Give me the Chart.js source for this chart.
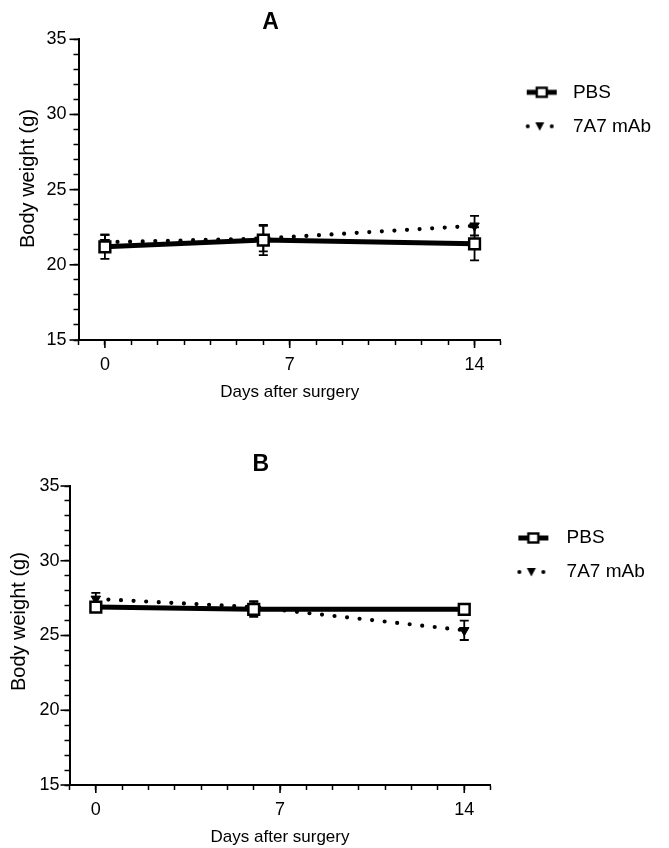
<!DOCTYPE html>
<html>
<head>
<meta charset="utf-8">
<script src="https://cdn.jsdelivr.net/npm/chart.js@4"></script>
<style>
  html, body { margin: 0; padding: 0; background: #fff; }
  #wrap { position: relative; width: 669px; height: 848px; }
  canvas { position: absolute; left: 0; }
</style>
</head>
<body>
<div id="wrap">
  <canvas id="cA" width="669" height="420" style="top:0px"></canvas>
  <canvas id="cB" width="669" height="428" style="top:420px"></canvas>
</div>
<script>
// ---------- data ----------
const days = [0, 6, 14];
const seriesNames = ['PBS', '7A7 mAb'];
const panelTitles = ['A', 'B'];
const xTickLabels = [0, 7, 14];
const yTickLabels = [15, 20, 25, 30, 35];
const xAxisTitle = 'Days after surgery';
const yAxisTitle = 'Body weight (g)';

const pbsA = [21.2, 21.65, 21.4];
const pbsAErr = [0.8, 1.0, 1.1];
const mabA = [21.5, 21.75, 22.6];
const mabAErr = [0.5, 0.85, 0.65];

const pbsB = [26.9, 26.75, 26.75];
const pbsBErr = [0.3, 0.5, 0.2];
const mabB = [27.45, 26.9, 25.35];
const mabBErr = [0.4, 0.4, 0.65];

// ---------- style / layout ----------
const FONT = "'Liberation Sans', Arial, Helvetica, sans-serif";
Chart.defaults.color = '#000';
Chart.defaults.font.family = FONT;

const layoutA = { yAxisW: 78.5, xAxisH: 80, titleTop: 8.7, titleBottom: 3, padRight: 7.9,
  legendTitleH: 28.5, boxW: 47.5, sampleOff: 11, yTitlePad: 16.5, xTitlePad: 17.8, yTickPad: 7,
  titleSpaces: 6, yTitleSpaces: 4 };
const layoutB = { yAxisW: 69.5, xAxisH: 63, titleTop: 31.2, titleBottom: 7.2, padRight: 14.9,
  legendTitleH: 27.5, boxW: 51.5, sampleOff: 13, yTitlePad: 7.5, xTitlePad: 0, yTickPad: 5,
  titleSpaces: 6, yTitleSpaces: 5 };

function makeSample(kind, w, off) {
  const c = document.createElement('canvas');
  c.width = Math.round(w); c.height = 16;
  const g = c.getContext('2d');
  const cy = 8;
  g.strokeStyle = '#000'; g.fillStyle = '#000';
  if (kind === 'solid') {
    g.lineWidth = 5;
    g.beginPath(); g.moveTo(off, cy); g.lineTo(off + 30, cy); g.stroke();
    g.fillStyle = '#fff';
    g.fillRect(off + 15 - 5, cy - 4.5, 10, 9);
    g.lineWidth = 2.4;
    g.strokeRect(off + 15 - 5, cy - 4.5, 10, 9);
  } else {
    [off + 1, off + 25].forEach(px => { g.beginPath(); g.arc(px, cy, 2, 0, Math.PI * 2); g.fill(); });
    const tx = off + 13;
    g.beginPath(); g.moveTo(tx - 4.5, cy - 4); g.lineTo(tx + 4.5, cy - 4); g.lineTo(tx, cy + 4.5); g.closePath(); g.fill();
  }
  return c;
}

const errorBarPlugin = {
  id: 'errorBars',
  beforeDatasetsDraw(chart) {
    const ctx = chart.ctx;
    const xs = chart.scales.x, ys = chart.scales.y;
    ctx.save();
    ctx.strokeStyle = '#000';
    ctx.lineWidth = 1.8;
    chart.data.datasets.forEach(ds => {
      ds.data.forEach((p, i) => {
        const e = ds.errors[i];
        const px = xs.getPixelForValue(p.x);
        const top = ys.getPixelForValue(p.y + e);
        const bot = ys.getPixelForValue(p.y - e);
        ctx.beginPath();
        ctx.moveTo(px, top); ctx.lineTo(px, bot);
        ctx.moveTo(px - 4.5, top); ctx.lineTo(px + 4.5, top);
        ctx.moveTo(px - 4.5, bot); ctx.lineTo(px + 4.5, bot);
        ctx.stroke();
      });
    });
    ctx.restore();
  }
};

const majorTickPlugin = {
  id: 'majorTicks',
  afterDraw(chart) {
    const ctx = chart.ctx;
    const xs = chart.scales.x, ys = chart.scales.y;
    ctx.save();
    ctx.strokeStyle = '#000';
    ctx.lineWidth = 1.6;
    xTickLabels.forEach(v => {
      const px = xs.getPixelForValue(v);
      ctx.beginPath(); ctx.moveTo(px, xs.top); ctx.lineTo(px, xs.top + 8); ctx.stroke();
    });
    yTickLabels.forEach(v => {
      const py = ys.getPixelForValue(v);
      ctx.beginPath(); ctx.moveTo(ys.right, py); ctx.lineTo(ys.right - 9, py); ctx.stroke();
    });
    ctx.restore();
  }
};

function buildChart(canvasId, title, pbs, pbsErr, mab, mabErr, L) {
  const samples = [makeSample('solid', L.boxW, L.sampleOff), makeSample('dot', L.boxW, L.sampleOff)];
  return new Chart(document.getElementById(canvasId), {
    type: 'line',
    data: {
      datasets: [
        {
          label: seriesNames[0],
          data: days.map((d, i) => ({ x: d, y: pbs[i] })),
          errors: pbsErr,
          borderColor: '#000',
          borderWidth: 5,
          tension: 0,
          pointStyle: 'rect',
          pointRadius: 7.6,
          pointBorderWidth: 2.5,
          pointBackgroundColor: '#fff',
          pointBorderColor: '#000',
          order: 0
        },
        {
          label: seriesNames[1],
          data: days.map((d, i) => ({ x: d, y: mab[i] })),
          errors: mabErr,
          borderColor: '#000',
          borderWidth: 4.2,
          borderDash: [0, 12.6],
          borderCapStyle: 'round',
          tension: 0,
          pointStyle: 'triangle',
          rotation: 180,
          pointRadius: 5.5,
          pointBorderWidth: 1,
          pointBackgroundColor: '#000',
          pointBorderColor: '#000',
          order: 1
        }
      ]
    },
    options: {
      responsive: false,
      animation: false,
      devicePixelRatio: 1,
      layout: { padding: { top: 0, left: 0, right: L.padRight, bottom: 0 } },
      plugins: {
        tooltip: { enabled: false },
        title: {
          display: true,
          text: title + ' '.repeat(L.titleSpaces),
          fullSize: false,
          font: { family: FONT, size: 23, weight: 'bold', lineHeight: 1.2 },
          color: '#000',
          padding: { top: L.titleTop, bottom: L.titleBottom }
        },
        legend: {
          display: true,
          position: 'right',
          align: 'start',
          fullSize: false,
          title: { display: true, text: '', font: { size: 10, lineHeight: 1.2 }, padding: { top: 0, bottom: L.legendTitleH - 12 } },
          labels: {
            usePointStyle: true,
            pointStyleWidth: L.boxW,
            padding: 15,
            color: '#000',
            font: { family: FONT, size: 19 },
            generateLabels: (chart) => chart.data.datasets.map((ds, i) => ({
              text: ds.label, pointStyle: samples[i], fillStyle: '#000', strokeStyle: '#000',
              lineWidth: 0, hidden: false, datasetIndex: i, fontColor: '#000'
            }))
          }
        }
      },
      scales: {
        x: {
          type: 'linear',
          min: -1, max: 15,
          afterFit: (s) => { s.height = L.xAxisH; },
          border: { display: true, color: '#000', width: 2 },
          grid: { display: true, drawOnChartArea: false, drawTicks: true, tickLength: 5, tickColor: '#000', tickWidth: 1.5 },
          ticks: {
            stepSize: 1, autoSkip: false, maxRotation: 0, padding: 9,
            font: { family: FONT, size: 18 }, color: '#000',
            callback: (v) => xTickLabels.includes(v) ? String(v) : ''
          },
          title: {
            display: true, text: xAxisTitle, color: '#000',
            font: { family: FONT, size: 17, lineHeight: 1.2 },
            padding: { top: 0, bottom: L.xTitlePad }
          }
        },
        y: {
          type: 'linear',
          min: 15, max: 35,
          afterFit: (s) => { s.width = L.yAxisW; },
          border: { display: true, color: '#000', width: 2 },
          grid: { display: true, drawOnChartArea: false, drawTicks: true, tickLength: 5, tickColor: '#000', tickWidth: 1.5 },
          ticks: {
            stepSize: 1, autoSkip: false, padding: L.yTickPad,
            font: { family: FONT, size: 18 }, color: '#000',
            callback: (v) => yTickLabels.includes(v) ? String(v) : ''
          },
          title: {
            display: true, text: ' '.repeat(L.yTitleSpaces) + yAxisTitle, color: '#000',
            font: { family: FONT, size: 20, lineHeight: 1.2 },
            padding: { top: L.yTitlePad, bottom: 0 }
          }
        }
      }
    },
    plugins: [errorBarPlugin, majorTickPlugin]
  });
}

buildChart('cA', panelTitles[0], pbsA, pbsAErr, mabA, mabAErr, layoutA);
buildChart('cB', panelTitles[1], pbsB, pbsBErr, mabB, mabBErr, layoutB);
</script>
</body>
</html>
